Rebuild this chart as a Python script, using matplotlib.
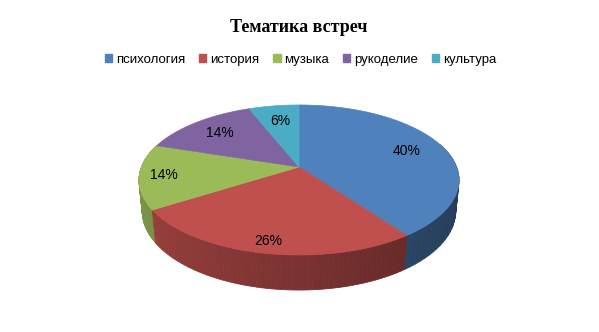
import numpy as np
import matplotlib
matplotlib.use("Agg")
import matplotlib.pyplot as plt
from matplotlib.patches import Polygon, Patch
from matplotlib.colors import to_rgb

# data
categories = ["психология", "история", "музыка", "рукоделие", "культура"]
shares = [40, 26, 14, 14, 6]
labels = ["40%", "26%", "14%", "14%", "6%"]
colors = ["#4F81BD", "#C0504D", "#9BBB59", "#8064A2", "#4BACC6"]
label_r = [0.75, 0.88, 0.85, 0.75, 0.72]

# 3d look: perspective camera
CX, CY = 299, 167
ELEV = np.radians(27.5)
S, C = np.sin(ELEV), np.cos(ELEV)
DIST = 5.12
K = 806.8
THICK = 0.225


def proj(u, w, h):
    dz = w * C + h * S
    up = h * C - w * S
    f = K / (DIST - dz)
    return CX + u * f, CY - up * f


def shade(col, u):
    k = 0.8 - 0.33 * (u + 1) / 2
    r, g, b = to_rgb(col)
    return (r * k, g * k, b * k)


fig = plt.figure(figsize=(5.99, 3.32), dpi=100)
ax = fig.add_axes([0, 0, 1, 1])
ax.set_xlim(0, 599)
ax.set_ylim(332, 0)
ax.axis("off")

total = sum(shares)
bounds = np.concatenate([[0], np.cumsum(shares)]) / total * 2 * np.pi

# side walls, back to front
quads = []
for i, col in enumerate(colors):
    th = np.linspace(bounds[i], bounds[i + 1], 60)
    for a, b in zip(th[:-1], th[1:]):
        ua, wa = np.sin(a), -np.cos(a)
        ub, wb = np.sin(b), -np.cos(b)
        if wa < -0.3 and wb < -0.3:
            continue
        pts = [proj(ua, wa, 0), proj(ub, wb, 0),
               proj(ub, wb, -THICK), proj(ua, wa, -THICK)]
        quads.append(((wa + wb) / 2, pts, shade(col, (ua + ub) / 2)))
quads.sort(key=lambda q: q[0])
for _, pts, fc in quads:
    ax.add_patch(Polygon(pts, closed=True, facecolor=fc, edgecolor=fc, lw=0.6))

# top faces
for i, col in enumerate(colors):
    th = np.linspace(bounds[i], bounds[i + 1], 120)
    pts = [proj(0, 0, 0)] + [proj(np.sin(t), -np.cos(t), 0) for t in th]
    ax.add_patch(Polygon(pts, closed=True, facecolor=col, edgecolor=col, lw=0.5))

# value labels
for i, lab in enumerate(labels):
    mid = (bounds[i] + bounds[i + 1]) / 2
    r = label_r[i]
    x, y = proj(r * np.sin(mid), -r * np.cos(mid), 0)
    ax.text(x, y, lab, ha="center", va="center", fontsize=10,
            family="Liberation Sans", color="black")

ax.text(299, 27, "Тематика встреч", ha="center", va="center", fontsize=13,
        fontweight="bold", family="Liberation Serif", color="black")

handles = [Patch(facecolor=c, edgecolor=c) for c in colors]
ax.legend(handles, categories, loc="center", bbox_to_anchor=(0.502, 0.82),
          ncol=5, frameon=False, handlelength=0.55, handleheight=0.55,
          handletextpad=0.3, columnspacing=1.05,
          prop={"family": "Liberation Sans", "size": 9.5})

fig.savefig("out.png", dpi=100)
